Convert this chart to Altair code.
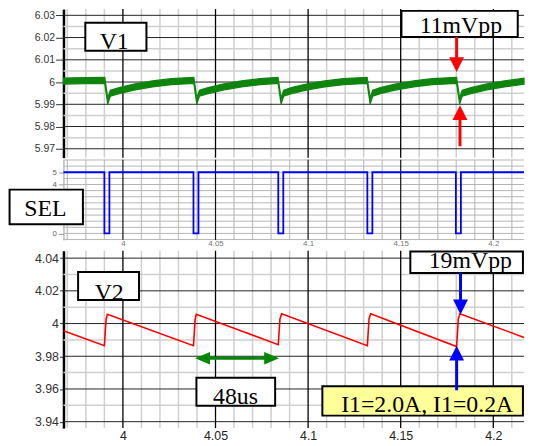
import altair as alt
import pandas as pd

# ---------------- data ----------------
X_DOMAIN = [3.9679, 4.2166]
X_MAJOR = [4.0, 4.05, 4.1, 4.15, 4.2]
X_MINOR = [3.97, 3.98, 3.99, 4.01, 4.02, 4.03, 4.04, 4.06, 4.07, 4.08, 4.09,
           4.11, 4.12, 4.13, 4.14, 4.16, 4.17, 4.18, 4.19, 4.21]

# V1 (top panel)
V1_Y_DOMAIN = [5.9660, 6.0328]
V1_Y_MAJOR = [5.97, 5.98, 5.99, 6.0, 6.01, 6.02, 6.03]
V1_Y_MINOR = [5.975, 5.985, 5.995, 6.005, 6.015, 6.025]
V1_T = [3.9679, 3.9800, 3.9902,
        3.9918, 3.9932, 3.9980, 4.0060, 4.0160, 4.0260, 4.0383,
        4.0399, 4.0413, 4.0460, 4.0540, 4.0640, 4.0740, 4.0838,
        4.0854, 4.0868, 4.0910, 4.0990, 4.1090, 4.1190, 4.1319,
        4.1335, 4.1349, 4.1390, 4.1470, 4.1570, 4.1670, 4.1802,
        4.1818, 4.1832, 4.1880, 4.1960, 4.2060, 4.2166]
V1_LO = [5.9991, 5.9993, 5.9994,
         5.9901, 5.9936, 5.9948, 5.9964, 5.9978, 5.9988, 5.9994,
         5.9901, 5.9936, 5.9948, 5.9964, 5.9978, 5.9988, 5.9994,
         5.9901, 5.9936, 5.9948, 5.9964, 5.9978, 5.9988, 5.9994,
         5.9901, 5.9936, 5.9948, 5.9964, 5.9978, 5.9988, 5.9994,
         5.9901, 5.9936, 5.9948, 5.9964, 5.9978, 5.9990]
V1_HI = [6.0018, 6.0020, 6.0021,
         5.9928, 5.9963, 5.9975, 5.9991, 6.0005, 6.0015, 6.0021,
         5.9928, 5.9963, 5.9975, 5.9991, 6.0005, 6.0015, 6.0021,
         5.9928, 5.9963, 5.9975, 5.9991, 6.0005, 6.0015, 6.0021,
         5.9928, 5.9963, 5.9975, 5.9991, 6.0005, 6.0015, 6.0021,
         5.9928, 5.9963, 5.9975, 5.9991, 6.0005, 6.0017]

# SEL (middle panel)
SEL_Y_DOMAIN = [-0.526, 6.03]
SEL_Y_TICKS = [0, 4, 5]
SEL_Y_GRID = [-0.5, 0, 0.5, 1, 1.5, 2, 2.5, 3, 3.5, 4, 4.5, 5, 5.5, 6]
SEL_T = [3.9679, 3.9900, 3.9900, 3.9927, 3.9927,
         4.0381, 4.0381, 4.0408, 4.0408,
         4.0839, 4.0839, 4.0866, 4.0866,
         4.1320, 4.1320, 4.1347, 4.1347,
         4.1798, 4.1798, 4.1825, 4.1825, 4.2166]
SEL_V = [5, 5, 0, 0, 5,
         5, 0, 0, 5,
         5, 0, 0, 5,
         5, 0, 0, 5,
         5, 0, 0, 5, 5]

# V2 (bottom panel)
V2_Y_DOMAIN = [3.9361, 4.0445]
V2_Y_MAJOR = [3.94, 3.96, 3.98, 4.0, 4.02, 4.04]
V2_Y_MINOR = [3.95, 3.97, 3.99, 4.01, 4.03]
V2_T = [3.9679, 3.9900, 3.9909, 3.9916, 4.0381, 4.0390, 4.0396, 4.0839, 4.0848,
        4.0857, 4.1320, 4.1329, 4.1338, 4.1802, 4.1811, 4.1820, 4.2166]
V2_V = [3.9956, 3.9865, 4.0025, 4.0057, 3.9865, 4.0025, 4.0057, 3.9871, 4.0028,
        4.0060, 3.9865, 4.0028, 4.0060, 3.9859, 4.0028, 4.0060, 3.9915]

# annotation boxes: label, x1, x2, y1, y2, text x, text baseline y, fill
V1_BOXES = [("V1", 3.9797, 4.0127, 6.0267, 6.0141, 3.9953, 6.01487, "white"),
            ("11mVpp", 4.1504, 4.2132, 6.0320, 6.0203, 4.1825, 6.02227, "white")]
SEL_BOXES = [("SEL", 3.9388, 3.9784, 3.58, 0.745, 3.9581, 1.416, "white")]
V2_BOXES = [("V2", 3.9758, 4.0087, 4.0315, 4.0144, 3.9926, 4.0147, "white"),
            ("48us", 4.0397, 4.0822, 3.9669, 3.9497, 4.0608, 3.9511, "white"),
            ("19mVpp", 4.1552, 4.2160, 4.0440, 4.0309, 4.1876, 4.0339, "white"),
            ("I1=2.0A, I1=0.2A", 4.1077, 4.2160, 3.9617, 3.9437, 4.1643, 3.9461, "#ffff99")]

# arrows: vertical shaft (x, y_from, y_to), head (x, y_tip, direction)
V1_SHAFTS = [(4.1802, 6.0203, 6.0079), (4.1820, 5.9711, 5.9866)]
V1_HEADS = [(4.1802, 6.0045, "down"), (4.1820, 5.9896, "up")]
V2_SHAFTS = [(4.1823, 4.0309, 4.0103), (4.1802, 3.9592, 3.9818)]
V2_HEADS = [(4.1823, 4.0056, "down"), (4.1802, 3.9865, "up")]
SPAN_Y = 3.9788
SPAN_SHAFT = [4.0433, 4.0800]
SPAN_HEADS = [(4.0390, "left"), (4.0843, "right")]

SHAPES = {"down": "M0,0L-1,-2L1,-2Z", "up": "M0,0L-1,2L1,2Z",
          "right": "M0,0L-2,-0.85L-2,0.85Z", "left": "M0,0L2,-0.85L2,0.85Z"}

# ---------------- helpers ----------------
W = 465
xs = alt.Scale(domain=X_DOMAIN, nice=False, zero=False)
GRID_MINOR = "#cfcfcf"
GRID_MAJOR = "#222222"
SANS = "Liberation Sans"
SERIF = "Liberation Serif"


def vgrid(vals, xaxis, color, w):
    return alt.Chart(pd.DataFrame({"t": vals})).mark_rule(color=color, strokeWidth=w).encode(
        x=alt.X("t:Q", scale=xs, axis=xaxis))


def hgrid(vals, ys, yaxis, color, w):
    return alt.Chart(pd.DataFrame({"v": vals})).mark_rule(color=color, strokeWidth=w).encode(
        y=alt.Y("v:Q", scale=ys, axis=yaxis))


def boxes(rows, xaxis, ys, yaxis):
    df = pd.DataFrame(rows, columns=["label", "x1", "x2", "y1", "y2", "tx", "ty", "fill"])
    rect = alt.Chart(df).mark_rect(stroke="black", strokeWidth=2).encode(
        x=alt.X("x1:Q", scale=xs, axis=xaxis), x2="x2:Q",
        y=alt.Y("y1:Q", scale=ys, axis=yaxis), y2="y2:Q",
        fill=alt.Fill("fill:N", scale=None))
    txt = alt.Chart(df).mark_text(font=SERIF, fontSize=24, baseline="alphabetic",
                                  align="center", color="black").encode(
        x=alt.X("tx:Q", scale=xs, axis=xaxis),
        y=alt.Y("ty:Q", scale=ys, axis=yaxis), text="label:N")
    return rect + txt


def vshafts(rows, xaxis, ys, yaxis, color):
    df = pd.DataFrame(rows, columns=["x", "y1", "y2"])
    return alt.Chart(df).mark_rule(color=color, strokeWidth=3).encode(
        x=alt.X("x:Q", scale=xs, axis=xaxis),
        y=alt.Y("y1:Q", scale=ys, axis=yaxis), y2="y2:Q")


def heads(rows, xaxis, ys, yaxis, color):
    layers = []
    for x, y, d in rows:
        df = pd.DataFrame({"x": [x], "y": [y]})
        layers.append(alt.Chart(df).mark_point(shape=SHAPES[d], filled=True, size=225,
                                               opacity=1, color=color).encode(
            x=alt.X("x:Q", scale=xs, axis=xaxis),
            y=alt.Y("y:Q", scale=ys, axis=yaxis)))
    return alt.layer(*layers)


def yaxis_main(values, fs, tick):
    return alt.Axis(title=None, values=values, format="~g", grid=False,
                    labelFont=SANS, labelFontSize=fs, labelColor="#333333",
                    tickColor="#333333", tickSize=tick, labelPadding=1,
                    domainColor="black", domainWidth=2.5,
                    minExtent=55, maxExtent=55)


# ---------------- panel 1: V1 ----------------
ys1 = alt.Scale(domain=V1_Y_DOMAIN, nice=False, zero=False)
ya1 = yaxis_main(V1_Y_MAJOR, 10.5, 8)
xa1 = None

v1_df = pd.DataFrame({"t": V1_T, "lo": V1_LO, "hi": V1_HI})
v1_trace = alt.Chart(v1_df).mark_area(color="#0f850f", stroke="#0f850f", strokeWidth=1.2,
                                      opacity=1).encode(
    x=alt.X("t:Q", scale=xs, axis=xa1),
    y=alt.Y("lo:Q", scale=ys1, axis=ya1), y2="hi:Q")

p1 = alt.layer(
    vgrid(X_MINOR, xa1, GRID_MINOR, 1.5),
    hgrid(V1_Y_MINOR, ys1, ya1, GRID_MINOR, 1.5),
    hgrid(V1_Y_MAJOR, ys1, ya1, GRID_MAJOR, 1),
    vgrid(X_MAJOR, xa1, "black", 1.3),
    v1_trace,
    boxes(V1_BOXES, xa1, ys1, ya1),
    vshafts(V1_SHAFTS, xa1, ys1, ya1, "#ff0000"),
    heads(V1_HEADS, xa1, ys1, ya1, "#ff0000"),
).properties(width=W, height=150)

# ---------------- panel 2: SEL ----------------
ys2 = alt.Scale(domain=SEL_Y_DOMAIN, nice=False, zero=False)
ya2 = alt.Axis(title=None, values=SEL_Y_TICKS, format="~g", grid=False,
               labelFont=SANS, labelFontSize=8, labelColor="#666666",
               tickColor="#999999", tickSize=5, labelPadding=2,
               domainColor="#999999", domainWidth=1, minExtent=55, maxExtent=55)
xa2 = alt.Axis(title=None, values=X_MAJOR, format="~g", grid=False, ticks=False,
               domain=False, labelFont=SANS, labelFontSize=8, labelColor="#777777",
               labelPadding=0, minExtent=8.5, maxExtent=8.5)

sel_df = pd.DataFrame({"i": list(range(len(SEL_T))), "t": SEL_T, "v": SEL_V})
sel_trace = alt.Chart(sel_df).mark_line(color="#0000ff", strokeWidth=1.8).encode(
    x=alt.X("t:Q", scale=xs, axis=xa2),
    y=alt.Y("v:Q", scale=ys2, axis=ya2), order=alt.Order("i:Q"))

p2 = alt.layer(
    vgrid(X_MINOR, xa2, "#c4c4c4", 1.3),
    hgrid(SEL_Y_GRID, ys2, ya2, "#b5b5b5", 1),
    vgrid(X_MAJOR, xa2, "#111111", 1.2),
    sel_trace,
    boxes(SEL_BOXES, xa2, ys2, ya2),
).properties(width=W, height=81)

# ---------------- panel 3: V2 ----------------
ys3 = alt.Scale(domain=V2_Y_DOMAIN, nice=False, zero=False)
ya3 = yaxis_main(V2_Y_MAJOR, 12.5, 4)
xa3 = alt.Axis(title=None, values=X_MAJOR, format="~g", grid=False, ticks=False,
               domain=False, labelFont=SANS, labelFontSize=12.5, labelColor="#222222",
               labelPadding=2)

v2_df = pd.DataFrame({"i": list(range(len(V2_T))), "t": V2_T, "v": V2_V})
v2_trace = alt.Chart(v2_df).mark_line(color="#ff0000", strokeWidth=1.6).encode(
    x=alt.X("t:Q", scale=xs, axis=xa3),
    y=alt.Y("v:Q", scale=ys3, axis=ya3), order=alt.Order("i:Q"))

span_df = pd.DataFrame({"x1": [SPAN_SHAFT[0]], "x2": [SPAN_SHAFT[1]], "y": [SPAN_Y]})
span_shaft = alt.Chart(span_df).mark_rule(color="#008800", strokeWidth=3).encode(
    x=alt.X("x1:Q", scale=xs, axis=xa3), x2="x2:Q",
    y=alt.Y("y:Q", scale=ys3, axis=ya3))
span_heads = heads([(x, SPAN_Y, d) for x, d in SPAN_HEADS], xa3, ys3, ya3, "#008800")

p3 = alt.layer(
    vgrid(X_MINOR, xa3, GRID_MINOR, 1.5),
    hgrid(V2_Y_MINOR, ys3, ya3, GRID_MINOR, 1.5),
    hgrid(V2_Y_MAJOR, ys3, ya3, GRID_MAJOR, 1),
    vgrid(X_MAJOR, xa3, "black", 1.3),
    v2_trace,
    span_shaft,
    span_heads,
    boxes(V2_BOXES, xa3, ys3, ya3),
    vshafts(V2_SHAFTS, xa3, ys3, ya3, "#0000ff"),
    heads(V2_HEADS, xa3, ys3, ya3, "#0000ff"),
).properties(width=W, height=179)

chart = alt.vconcat(p1, p2, p3, spacing=0).properties(
    padding={"top": -2, "left": 0, "right": 0, "bottom": 0}, background="white"
).configure_view(strokeWidth=0)

chart.save("out.html", embed_options={"renderer": "svg", "actions": False})
